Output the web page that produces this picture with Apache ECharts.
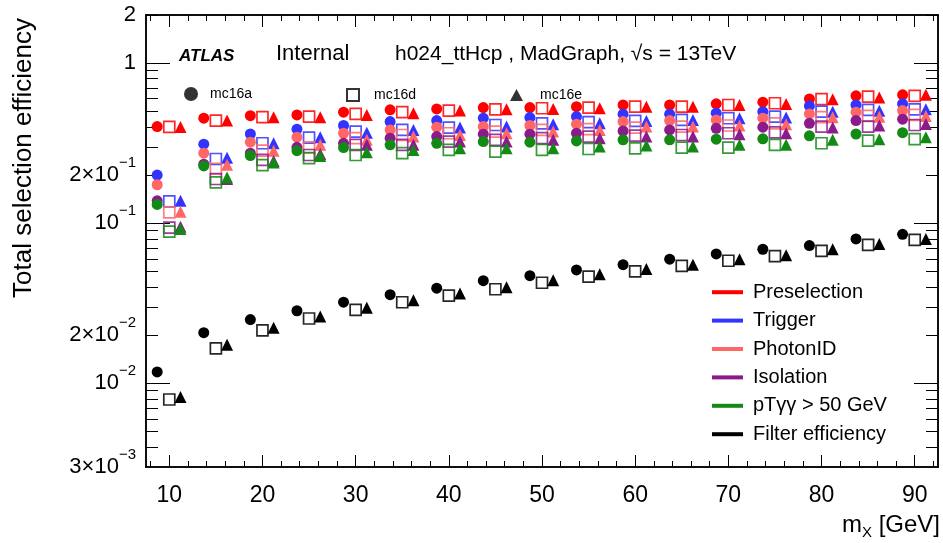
<!DOCTYPE html>
<html><head><meta charset="utf-8">
<script src="https://cdn.jsdelivr.net/npm/echarts@6/dist/echarts.min.js"></script>
<style>html,body{margin:0;padding:0;background:#fff}#c{width:943px;height:543px}</style>
</head><body><div id="c"></div>
<script>
const masses = [10,15,20,25,30,35,40,45,50,55,60,65,70,75,80,85,90];
const campaigns = ['mc16a','mc16d','mc16e'];
const campaignShift = [-1.3, 0, 1.2];
const stages = ['Preselection','Trigger','PhotonID','Isolation','pTγγ > 50 GeV','Filter efficiency'];
const stageColors = ['#ff0000','#3333ff','#ff6666','#8b1a8b','#138a13','#000000'];

const preselA = [0.402,0.453,0.470,0.475,0.494,0.511,0.518,0.528,0.528,0.535,0.548,0.548,0.557,0.571,0.598,0.625,0.634];
const preselD = [0.400,0.438,0.460,0.464,0.482,0.494,0.506,0.515,0.523,0.528,0.535,0.535,0.548,0.562,0.596,0.618,0.625];
const preselE = [0.400,0.438,0.460,0.460,0.475,0.487,0.506,0.515,0.518,0.523,0.535,0.535,0.548,0.555,0.596,0.610,0.634];

const triggerA = [0.200,0.312,0.361,0.387,0.408,0.432,0.438,0.453,0.457,0.464,0.480,0.480,0.487,0.498,0.541,0.548,0.557];
const triggerD = [0.137,0.252,0.316,0.343,0.374,0.383,0.396,0.411,0.421,0.428,0.436,0.442,0.453,0.464,0.498,0.511,0.515];
const triggerE = [0.138,0.257,0.316,0.345,0.368,0.383,0.396,0.402,0.416,0.421,0.436,0.442,0.453,0.457,0.498,0.505,0.515];

const photonA = [0.174,0.274,0.321,0.345,0.365,0.383,0.398,0.402,0.408,0.416,0.432,0.438,0.442,0.453,0.482,0.494,0.506];
const photonD = [0.117,0.219,0.284,0.298,0.340,0.356,0.365,0.374,0.383,0.387,0.396,0.402,0.408,0.421,0.460,0.468,0.475];
const photonE = [0.118,0.232,0.284,0.309,0.332,0.348,0.356,0.365,0.374,0.383,0.402,0.402,0.408,0.416,0.460,0.462,0.468];

const isoA = [0.138,0.234,0.274,0.298,0.316,0.340,0.348,0.360,0.360,0.365,0.377,0.383,0.392,0.398,0.421,0.438,0.447];
const isoD = [0.094,0.189,0.249,0.267,0.309,0.309,0.324,0.332,0.340,0.348,0.353,0.356,0.365,0.370,0.402,0.402,0.411];
const isoE = [0.095,0.189,0.245,0.271,0.309,0.309,0.324,0.324,0.332,0.340,0.348,0.348,0.360,0.365,0.396,0.408,0.417];

const ptA = [0.131,0.228,0.265,0.284,0.297,0.309,0.316,0.324,0.321,0.327,0.332,0.332,0.335,0.337,0.352,0.361,0.368];
const ptD = [0.0887,0.180,0.231,0.255,0.267,0.274,0.287,0.280,0.287,0.291,0.294,0.297,0.297,0.309,0.316,0.328,0.335];
const ptE = [0.092,0.193,0.240,0.263,0.278,0.287,0.294,0.294,0.294,0.302,0.306,0.302,0.309,0.309,0.332,0.335,0.345];

const filterA = [0.01177,0.0207,0.0250,0.0284,0.0321,0.0358,0.0393,0.0438,0.0470,0.0511,0.0551,0.0596,0.0643,0.0688,0.0725,0.0798,0.0853];
const filterD = [0.00792,0.01655,0.0214,0.0254,0.0288,0.0321,0.0353,0.0387,0.0425,0.0464,0.0500,0.0542,0.0583,0.0624,0.0672,0.0732,0.0788];
const filterE = [0.00822,0.0174,0.0222,0.0261,0.0296,0.0330,0.0364,0.0398,0.0440,0.0480,0.0517,0.0550,0.0596,0.0632,0.0688,0.0742,0.0797];

const yTickLabels = [0.003,0.01,0.02,0.1,0.2,1,2];
const yMajorTicks = [0.01,0.1,1];
const yMinorTicks = [0.004,0.005,0.006,0.007,0.008,0.009,0.02,0.03,0.04,0.05,0.06,0.07,0.08,0.09,0.2,0.3,0.4,0.5,0.6,0.7,0.8,0.9,2];
const xTickLabels = [10,20,30,40,50,60,70,80,90];
const xMinorTicks = [8,12,14,16,18,22,24,26,28,32,34,36,38,42,44,46,48,52,54,56,58,62,64,66,68,72,74,76,78,82,84,86,88,92];

const table = [
  [preselA, preselD, preselE],
  [triggerA, triggerD, triggerE],
  [photonA, photonD, photonE],
  [isoA, isoD, isoE],
  [ptA, ptD, ptE],
  [filterA, filterD, filterE]
];

const FF = 'Liberation Sans, Arial, Helvetica, sans-serif';
const symbols = ['circle','rect','triangle'];
const symbolSizes = [11, 11, 12];

const series = [];
stages.forEach((st, si) => {
  campaigns.forEach((c, ci) => {
    series.push({
      type: 'scatter', name: st, xAxisIndex: 0, yAxisIndex: 0,
      symbol: symbols[ci], symbolSize: symbolSizes[ci], silent: true,
      itemStyle: ci === 1
        ? {color: 'rgba(0,0,0,0)', borderColor: stageColors[si], borderWidth: 1.7, opacity: 0.85}
        : {color: stageColors[si], opacity: 1},
      data: masses.map((m, i) => [m + campaignShift[ci], table[si][ci][i]])
    });
  });
});
campaigns.forEach((c, ci) => {
  series.push({
    type: 'scatter', name: c, symbol: symbols[ci], symbolSize: 13, data: [],
    itemStyle: ci === 1 ? {color: 'rgba(0,0,0,0)', borderColor: '#000', borderWidth: 1.5} : {color: '#000'}
  });
});

function xAx(position, ticks, len, labels) {
  return {
    type: 'value', position: position, min: 7.5, max: 92.5, gridIndex: 0,
    axisLine: {show: true, onZero: false, lineStyle: {color: '#000', width: 1.5}},
    axisTick: {show: true, inside: true, length: len, customValues: ticks, lineStyle: {color: '#000', width: 1}},
    axisLabel: labels ? {show: true, customValues: labels, margin: 17, fontSize: 23, color: '#000', fontFamily: FF} : {show: false},
    splitLine: {show: false}, minorTick: {show: false}
  };
}
function yFmt(v) {
  const e = Math.floor(Math.log10(v) + 1e-9);
  const mant = Math.round(v / Math.pow(10, e));
  if (e >= 0) return '{n|' + Math.round(mant * Math.pow(10, e)) + '}';
  return '{n|' + (mant === 1 ? '' : mant + '×') + '10}{s|−' + (-e) + '}';
}
function yAx(position, ticks, len, labels) {
  return {
    type: 'log', logBase: 10, position: position, min: 0.003, max: 2, gridIndex: 0,
    axisLine: {show: true, onZero: false, lineStyle: {color: '#000', width: 1.5}},
    axisTick: {show: true, inside: true, length: len, customValues: ticks, lineStyle: {color: '#000', width: 1}},
    axisLabel: labels ? {
      show: true, customValues: labels, margin: 10, color: '#000', formatter: yFmt,
      rich: {
        n: {fontSize: 22, fontFamily: FF, color: '#000', lineHeight: 40, verticalAlign: 'middle'},
        s: {fontSize: 15, fontFamily: FF, color: '#000', lineHeight: 15, verticalAlign: 'top'}
      }
    } : {show: false},
    splitLine: {show: false}, minorTick: {show: false}
  };
}

const chart = echarts.init(document.getElementById('c'), null, {renderer: 'canvas'});
chart.setOption({
  animation: false,
  backgroundColor: '#fff',
  grid: {left: 146, right: 5, top: 15, bottom: 76, containLabel: false},
  xAxis: [
    xAx('bottom', xTickLabels, 12, xTickLabels),
    xAx('bottom', xMinorTicks, 6, null),
    xAx('top', xTickLabels, 12, null),
    xAx('top', xMinorTicks, 6, null)
  ],
  yAxis: [
    yAx('left', yMajorTicks, 24, yTickLabels),
    yAx('left', yMinorTicks, 12, null),
    yAx('right', yMajorTicks, 24, null),
    yAx('right', yMinorTicks, 12, null)
  ],
  legend: [
    {
      data: stages.map((s, i) => ({name: s, icon: 'rect', itemStyle: {color: stageColors[i], borderWidth: 0, opacity: 1}})),
      orient: 'vertical', left: 707, top: 277, itemWidth: 31, itemHeight: 4, itemGap: 8,
      textStyle: {fontSize: 20, lineHeight: 20.4, padding: [0, 0, 0, 5], color: '#000', fontFamily: FF},
      selectedMode: false
    },
    {data: [{name: 'mc16a', icon: 'circle'}], left: 179, top: 82, itemWidth: 14, itemHeight: 14,
      textStyle: {fontSize: 14, padding: [0, 0, 0, 7], color: '#000', fontFamily: FF}, selectedMode: false},
    {data: [{name: 'mc16d', icon: 'rect'}], left: 341, top: 83, itemWidth: 12, itemHeight: 12,
      textStyle: {fontSize: 14, padding: [0, 0, 0, 10], color: '#000', fontFamily: FF}, selectedMode: false},
    {data: [{name: 'mc16e', icon: 'triangle'}], left: 505, top: 83, itemWidth: 13, itemHeight: 12,
      textStyle: {fontSize: 14, padding: [0, 0, 0, 12], color: '#000', fontFamily: FF}, selectedMode: false}
  ],
  graphic: [
    {type: 'text', x: 179, y: 56, style: {text: 'ATLAS', fontSize: 17, fontWeight: 'bold', fontStyle: 'italic', fontFamily: FF, fill: '#000', verticalAlign: 'middle'}},
    {type: 'text', x: 276, y: 54, style: {text: 'Internal', fontSize: 22, fontFamily: FF, fill: '#000', verticalAlign: 'middle'}},
    {type: 'text', x: 395, y: 54, style: {text: 'h024_ttHcp , MadGraph, √s = 13TeV', fontSize: 21, fontFamily: FF, fill: '#000', verticalAlign: 'middle'}},
    {type: 'text', x: 24, y: 158, rotation: Math.PI / 2, style: {text: 'Total selection efficiency', fontSize: 26, fontFamily: FF, fill: '#000', align: 'center', verticalAlign: 'middle'}},
    {type: 'text', x: 940, y: 525, style: {
      text: '{a|m}{b|X}{a| [GeV]}', align: 'right', verticalAlign: 'middle',
      rich: {
        a: {fontSize: 24, fontFamily: FF, fill: '#000', lineHeight: 30, verticalAlign: 'middle'},
        b: {fontSize: 15, fontFamily: FF, fill: '#000', lineHeight: 15, verticalAlign: 'bottom'}
      }
    }}
  ],
  series: series
});
</script>
</body></html>
